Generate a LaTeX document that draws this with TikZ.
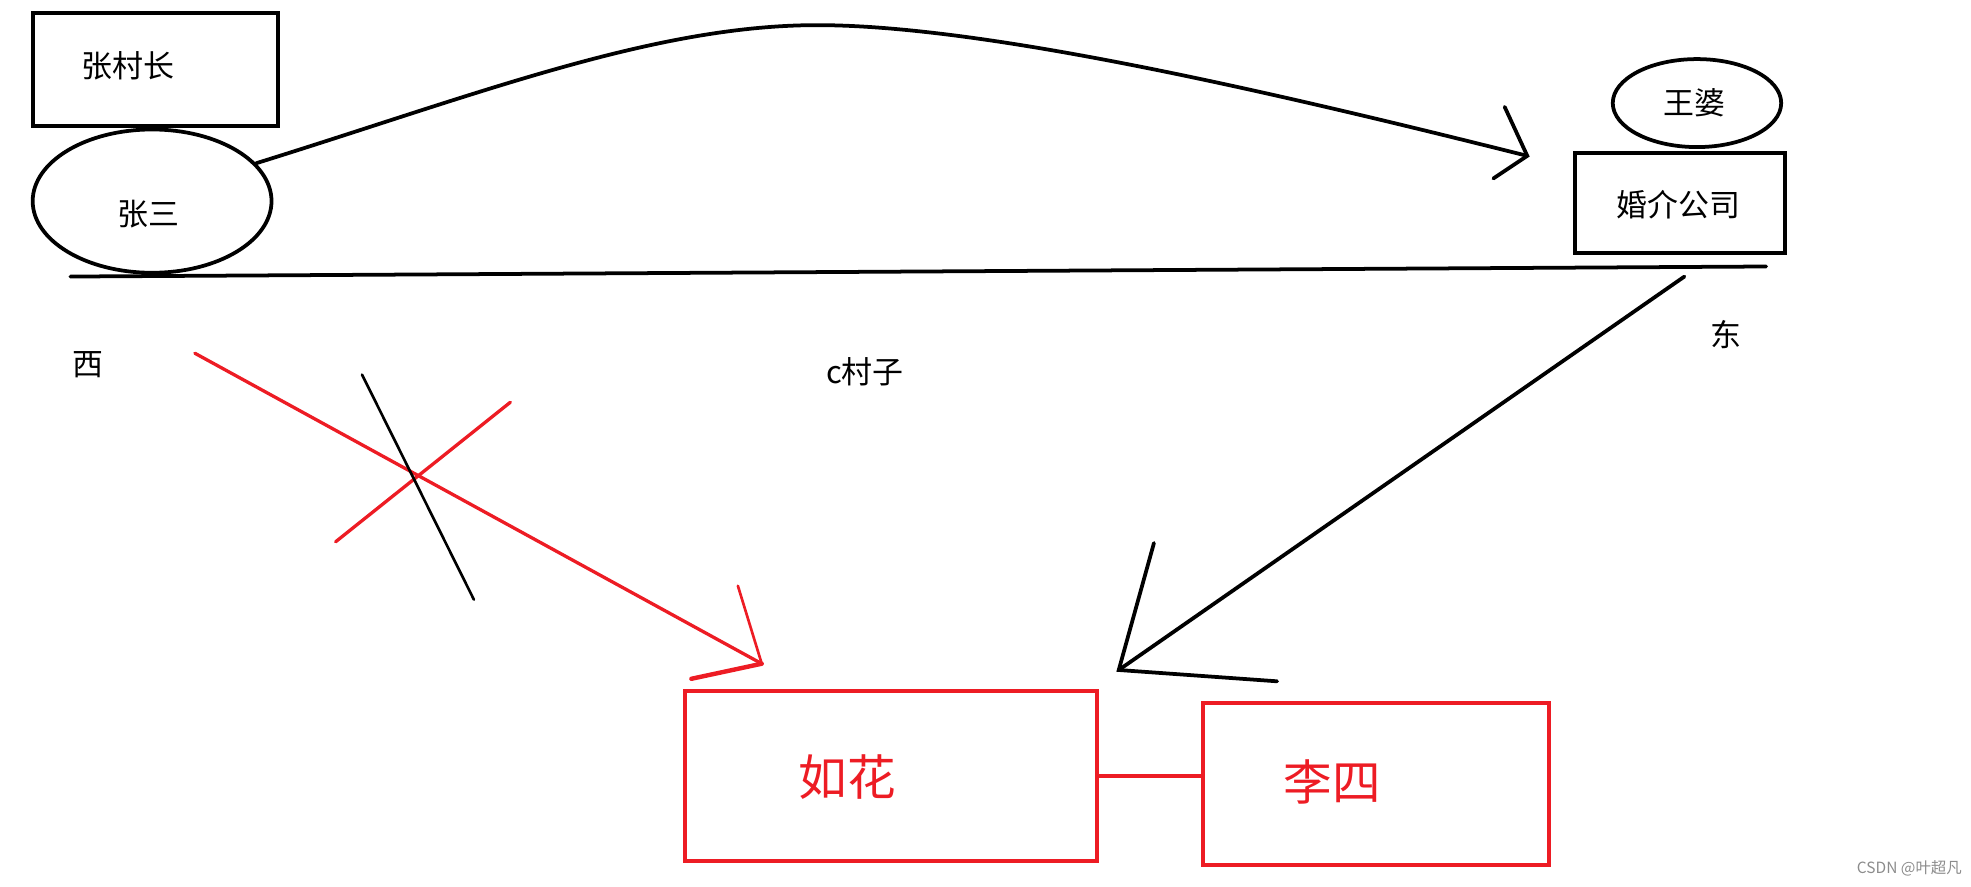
\documentclass[tikz,border=0pt]{standalone}
\usepackage{fontspec}
\setmainfont{Noto Sans CJK SC}
\usepackage{xcolor}
\usetikzlibrary{shapes.geometric}
\definecolor{paintred}{RGB}{237,28,36}
\definecolor{markgray}{RGB}{140,140,140}

\tikzset{
    pen/.style={line width=1.7pt, line cap=round},
    redpen/.style={line width=1.5pt, line cap=round, paintred},
    boxshape/.style={draw, line width=1.8pt, inner sep=0pt},
    ovalshape/.style={draw, ellipse, line width=1.7pt, inner sep=0pt},
    tag/.style={font=\fontsize{14}{16}\selectfont},
    bigtag/.style={font=\fontsize{22}{24}\selectfont, text=paintred},
}

\begin{document}
\begin{tikzpicture}[x=0.2mm, y=-0.2mm]
    \useasboundingbox (0,0) rectangle (1568,705.6);

    % West: village head and Zhang San
    \node[boxshape, minimum width=39mm, minimum height=18mm] (cunzhang) at (123.5,55) {};
    \node[tag] (cunzhangtext) at (102,52) {张村长};
    \node[ovalshape, minimum width=38mm, minimum height=22.8mm] (zhangsan) at (121,160) {};
    \node[tag] (zhangsantext) at (118,170) {张三};

    % East: agency and Wang Po
    \node[ovalshape, minimum width=26.8mm, minimum height=14mm] (wangpo) at (1350,82) {};
    \node[tag] (wangpotext) at (1348,82) {王婆};
    \node[boxshape, minimum width=33.4mm, minimum height=15.8mm] (hunjie) at (1336.5,161.5) {};
    \node[tag] (hunjietext) at (1335,163) {婚介公司};

    % the village road
    \draw[pen] (56,220) -- (1405,212);
    \node[tag] (xi) at (70,290) {西};
    \node[tag] (cunzi) at (688,296) {c村子};
    \node[tag] (dong) at (1373,266) {东};

    % Ru Hua and Li Si
    \node[boxshape, draw=paintred, minimum width=65.6mm, minimum height=27mm] (ruhua) at (709,617.5) {};
    \node[bigtag] (ruhuatext) at (674,618) {如花};
    \node[boxshape, draw=paintred, minimum width=55mm, minimum height=25.8mm] (lisi) at (1094.5,623.5) {};
    \node[bigtag] (lisitext) at (1060,622) {李四};
    \draw[redpen, line width=1.8pt] (ruhua.east) -- (lisi.west |- ruhua.east);

    % Zhang San goes to the agency
    \coordinate (curvetip) at (1215,124);
    \draw[pen] (zhangsan.20) .. controls (380,75) and (520,20) .. (650,20)
        .. controls (780,20) and (1000,70) .. (curvetip);
    \draw[pen] (1197,85) -- (curvetip) -- (1188,142);

    % the agency goes to Ru Hua
    \coordinate (agencyfoot) at (1340,220);
    \coordinate (blacktip) at (890,533);
    \draw[pen] (agencyfoot) -- (blacktip);
    \draw[pen] (918,432) -- (blacktip) -- (1016,542);

    % direct way, crossed out
    \coordinate (redstart) at (155,281);
    \coordinate (redtip) at (606,528);
    \draw[redpen] (redstart) -- (redtip);
    \draw[redpen, line width=1.2pt] (587,466) -- (redtip);
    \draw[redpen, line width=2pt] (550,540) -- (redtip);
    \draw[redpen] (267,431) -- (406,320);
    \draw[pen, line width=1.2pt] (288,298) -- (377,477);

    % watermark
    \node[font=\fontsize{7}{8}\selectfont, text=markgray] (mark) at (1519,691) {CSDN @叶超凡};
\end{tikzpicture}
\end{document}
